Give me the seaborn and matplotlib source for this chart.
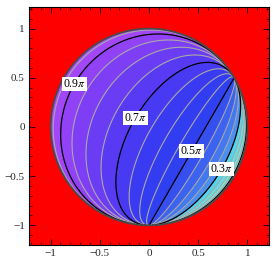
import numpy as np
import matplotlib
matplotlib.use("Agg")
import matplotlib.pyplot as plt
import seaborn as sns

# ---- data -------------------------------------------------------------
# end points of the contour family on the unit circle (degrees)
point_a_deg = -90.0
point_b_deg = 30.0
view_height_scale = 0.93
# contour levels in units of pi
fill_levels = [0.0, 0.05, 0.10, 0.15, 0.20, 0.25, 0.30, 0.35, 0.40, 0.45, 0.50,
               0.55, 0.60, 0.65, 0.70, 0.75, 0.80, 0.85, 0.90, 0.95, 1.0]
gray_levels = [0.05, 0.15, 0.20, 0.25, 0.35, 0.40, 0.45, 0.55, 0.60, 0.65,
               0.75, 0.80, 0.85, 0.95]
black_extra_levels = [0.10]
label_levels = [0.30, 0.50, 0.70, 0.90]
label_texts = [r"0.3$\pi$", r"0.5$\pi$", r"0.7$\pi$", r"0.9$\pi$"]
tick_values = [-1, -0.5, 0, 0.5, 1]
tick_labels = ["\u22121", "\u22120.5", "0", "0.5", "1"]
band_colors = ["#a4f2e2", "#96f0e2", "#86eee2", "#74eae2", "#62e2e4", "#54d6ea",
               "#4a90f0", "#4278f0", "#3c62f0", "#3650f0", "#2e40f0",
               "#323cf0", "#3a3af2", "#483af2", "#583af4", "#6a3cf4",
               "#7e3ef6", "#9242f6", "#a246f8", "#ae4afa"]

# ---- style ------------------------------------------------------------
sns.set_style("ticks")
plt.rcParams["font.family"] = ["Liberation Serif", "DejaVu Serif"]
plt.rcParams["mathtext.fontset"] = "stix"

fig = plt.figure(figsize=(2.73, 2.73), dpi=100)
ax = fig.add_axes([29 / 273, 1 - 245 / 273, 240 / 273, 238 / 273])
ax.set_facecolor("#ff0000")

# ---- field ------------------------------------------------------------
xs = np.linspace(-1.21, 1.21, 700)
ys = np.linspace(-1.21, 1.21, 700)
X, Y = np.meshgrid(xs, ys)
R2 = X ** 2 + Y ** 2
a = np.deg2rad(point_a_deg)
b = np.deg2rad(point_b_deg)
A = np.array([np.cos(a), np.sin(a)])
B = np.array([np.cos(b), np.sin(b)])
d = B - A
n = np.array([-d[1], d[0]]) / np.hypot(*d)  # normal pointing to the left side
s = X * n[0] + Y * n[1] - A @ n
H = view_height_scale * np.sqrt(np.clip(1 - R2, 0, None))
F = np.arctan2(H, -s) / np.pi
F = np.ma.masked_where(R2 > 1.0, F)

cmap_colors = sns.color_palette(band_colors, n_colors=len(band_colors))
ax.contourf(X, Y, F, levels=fill_levels, colors=cmap_colors)
ax.contour(X, Y, F, levels=gray_levels, colors="#a8a8a8", linewidths=0.8)
ax.contour(X, Y, F, levels=black_extra_levels, colors="black", linewidths=0.9)
cs = ax.contour(X, Y, F, levels=label_levels, colors="black", linewidths=0.9)
ax.contour(X, Y, np.sqrt(R2), levels=[1.0], colors="#4a4a4a", linewidths=1.3)

fmt = dict(zip(cs.levels, label_texts))
texts = ax.clabel(cs, fmt=fmt, fontsize=8.5, inline=False,
                  manual=[(0.73, -0.42), (0.44, -0.25), (-0.10, 0.07), (-0.75, 0.43)])
for t in texts:
    t.set_rotation(0)
    t.set_color("black")
    t.set_bbox(dict(facecolor="white", edgecolor="none", pad=0.6))

ax.set_xlim(-1.22, 1.22)
ax.set_ylim(-1.2, 1.22)
ax.set_xticks(tick_values)
ax.set_xticklabels(tick_labels)
ax.set_yticks(tick_values)
ax.set_yticklabels(tick_labels)
ax.set_xticks(np.arange(-1.2, 1.21, 0.1), minor=True)
ax.set_yticks(np.arange(-1.2, 1.21, 0.1), minor=True)
ax.tick_params(which="both", direction="in", top=True, right=True,
               labelsize=8, pad=3, color="black")
ax.tick_params(which="major", length=4, width=0.6)
ax.tick_params(which="minor", length=2, width=0.5)
for sp in ax.spines.values():
    sp.set_color("black")
    sp.set_linewidth(0.8)

fig.savefig("out.png", dpi=100)
